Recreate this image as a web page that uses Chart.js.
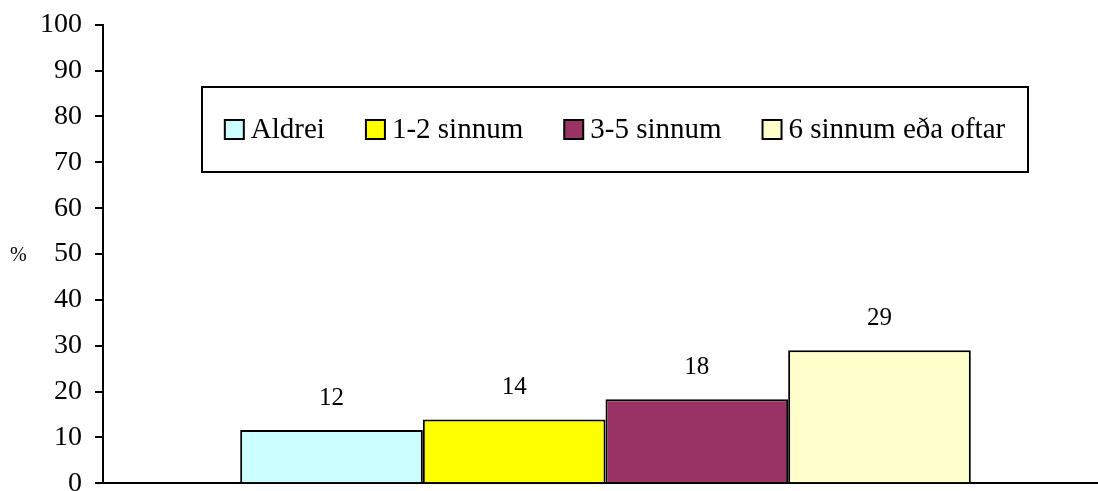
<!DOCTYPE html>
<html>
<head>
<meta charset="utf-8">
<script src="https://cdn.jsdelivr.net/npm/chart.js@4/dist/chart.umd.min.js"></script>
<style>
  html, body { margin: 0; padding: 0; background: #fff; overflow: hidden; width: 1098px; height: 491px; }
  #wrap { position: absolute; left: 0; top: -5px; width: 1110px; height: 518px; }
</style>
</head>
<body>
<div id="wrap"><canvas id="c"></canvas></div>
<script>
const categories = [''];
const seriesNames = ['Aldrei', '1-2 sinnum', '3-5 sinnum', '6 sinnum eða oftar'];
const seriesValues = [11.6, 13.9, 18.3, 29.0];
const seriesColors = ['#CCFFFF', '#FFFF00', '#993366', '#FFFFCC'];
const yTicks = [0, 10, 20, 30, 40, 50, 60, 70, 80, 90, 100];
const yUnit = '%';

const FONT = '"Liberation Serif", "Times New Roman", serif';
const SHIFT = 5; // canvas is shifted up by this many px

const overlay = {
  id: 'overlay',
  afterDatasetsDraw(chart) {
    const ctx = chart.ctx;
    ctx.save();
    // data labels
    ctx.fillStyle = '#000';
    ctx.font = '25px ' + FONT;
    ctx.textAlign = 'center';
    ctx.textBaseline = 'middle';
    chart.data.datasets.forEach((ds, i) => {
      const el = chart.getDatasetMeta(i).data[0];
      ctx.fillText(String(Math.round(ds.data[0])), el.x, el.y - 32);
    });
    // unit label
    ctx.font = '20px ' + FONT;
    ctx.textAlign = 'left';
    ctx.fillText(yUnit, 10, 256 + SHIFT);
    // legend box
    const bx = 202, by = 87 + SHIFT, bw = 826, bh = 85;
    ctx.fillStyle = '#fff';
    ctx.fillRect(bx, by, bw, bh);
    ctx.strokeStyle = '#000';
    ctx.lineWidth = 2;
    ctx.strokeRect(bx, by, bw, bh);
    ctx.font = '29px ' + FONT;
    const sq = 19, gapSq = 7, gapItem = 41;
    const widths = chart.data.datasets.map(d => ctx.measureText(d.label).width);
    let total = widths.reduce((a, w) => a + sq + gapSq + w, 0) + gapItem * (widths.length - 1);
    let x = bx + (bw - total) / 2;
    const cy = by + bh / 2;
    chart.data.datasets.forEach((d, i) => {
      ctx.fillStyle = d.backgroundColor;
      ctx.fillRect(x, cy - sq / 2, sq, sq);
      ctx.lineWidth = 2;
      ctx.strokeStyle = '#000';
      ctx.strokeRect(x, cy - sq / 2, sq, sq);
      ctx.fillStyle = '#000';
      ctx.textBaseline = 'middle';
      ctx.fillText(d.label, x + sq + gapSq, cy + 1);
      x += sq + gapSq + widths[i] + gapItem;
    });
    ctx.restore();
  }
};

new Chart(document.getElementById('c'), {
  type: 'bar',
  data: {
    labels: categories,
    datasets: seriesNames.map((n, i) => ({
      label: n,
      data: [seriesValues[i]],
      backgroundColor: seriesColors[i],
      borderColor: '#000',
      borderWidth: 2,
      barPercentage: 1,
      categoryPercentage: 0.727
    }))
  },
  options: {
    responsive: true,
    maintainAspectRatio: false,
    animation: false,
    events: [],
    layout: { padding: { top: 21, bottom: 14, left: 0, right: 2 } },
    plugins: { legend: { display: false }, tooltip: { enabled: false } },
    scales: {
      x: {
        ticks: { display: false },
        grid: { display: true, drawOnChartArea: false, drawTicks: false },
        border: { display: true, color: '#000', width: 2 }
      },
      y: {
        min: 0, max: 100,
        afterBuildTicks: s => { s.ticks = yTicks.map(v => ({ value: v })); },
        afterFit: s => { s.width = 103; },
        ticks: { color: '#000', font: { family: FONT, size: 28 }, padding: 13 },
        grid: { drawOnChartArea: false, drawTicks: true, tickLength: 8, color: '#000', lineWidth: 2 },
        border: { display: true, color: '#000', width: 2 }
      }
    }
  },
  plugins: [overlay]
});
</script>
</body>
</html>
